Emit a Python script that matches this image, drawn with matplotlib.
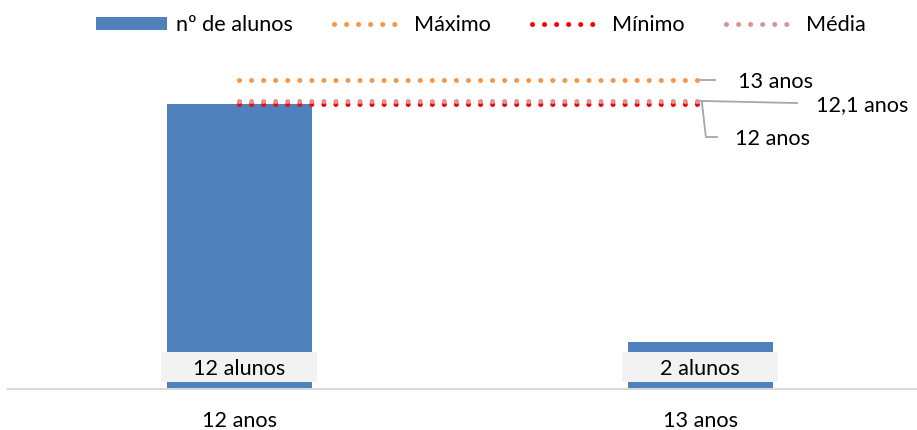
import matplotlib.pyplot as plt
from matplotlib.lines import Line2D
from matplotlib.patches import Patch, Rectangle

plt.rcParams['font.family'] = ['Lato', 'DejaVu Sans']

# --- dados ---
idades = ["12 anos", "13 anos"]
n_alunos = [12, 2]
maximo = [13, 13]
minimo = [12, 12]
media = [12.14, 12.14]
rotulos_barras = ["12 alunos", "2 alunos"]
rotulos_linhas = ["13 anos", "12,1 anos", "12 anos"]

cor_barra = "#4F81BD"
cor_max = "#F79646"
cor_min = "#FF0000"
cor_media = "#D99594"
cor_guia = "#A6A6A6"
fs = 15.6

fig = plt.figure(figsize=(9.17, 4.30), dpi=100)
ax = fig.add_axes([8 / 917, 41 / 430, 909 / 917, 14 * 23.75 / 430])

x = list(range(len(idades)))
ax.bar(x, n_alunos, width=0.315, color=cor_barra, zorder=2)

pontos = dict(linewidth=3.6, linestyle=(0, (0.01, 2.4)), dash_capstyle='round')
ax.plot(x, maximo, color=cor_max, zorder=3, **pontos)
ax.plot(x, minimo, color=cor_min, zorder=3, **pontos)
ax.plot(x, media, color=cor_media, zorder=4, **pontos)

# rótulos das barras, em caixa cinzenta junto à base
for xi, txt in zip(x, rotulos_barras):
    ax.add_patch(Rectangle((xi - 0.169, 0.29), 0.338, 1.26, facecolor="#F2F2F2",
                           edgecolor="none", zorder=5))
    ax.text(xi, 0.86, txt, ha='center', va='center', fontsize=fs,
            color="#000000", zorder=6)

# rótulos das linhas com linhas de chamada
xf = x[-1]
ax.plot([xf + 0.0, xf + 0.032], [maximo[-1], maximo[-1]], color=cor_guia, lw=1.3)
ax.text(xf + 0.081, maximo[-1] - 0.07, rotulos_linhas[0], ha='left', va='center', fontsize=fs)

ax.plot([xf - 0.001, xf + 0.21], [media[-1] - 0.01, media[-1] - 0.1], color=cor_guia, lw=1.3)
ax.text(xf + 0.25, media[-1] - 0.18, rotulos_linhas[1], ha='left', va='center', fontsize=fs)

ax.plot([xf + 0.003, xf + 0.012, xf + 0.036], [media[-1] - 0.01, 10.61, 10.61],
        color=cor_guia, lw=1.3)
ax.text(xf + 0.075, 10.53, rotulos_linhas[2], ha='left', va='center', fontsize=fs)

ax.set_xlim(-0.502, 1.47)
ax.set_ylim(0, 14)
ax.set_xticks(x)
ax.set_xticklabels(idades, fontsize=fs)
ax.tick_params(axis='x', length=0, pad=16)
ax.set_yticks([])
for lado in ['top', 'right', 'left']:
    ax.spines[lado].set_visible(False)
ax.spines['bottom'].set_color("#D9D9D9")
ax.spines['bottom'].set_linewidth(1.5)

handles = [
    Patch(facecolor=cor_barra, edgecolor='none', label="nº de alunos"),
    Line2D([], [], color=cor_max, label="Máximo", **pontos),
    Line2D([], [], color=cor_min, label="Mínimo", **pontos),
    Line2D([], [], color=cor_media, label="Média", **pontos),
]
fig.legend(handles=handles, loc='center', bbox_to_anchor=(481 / 917, 1 - 25 / 430), ncol=4,
           frameon=False, fontsize=fs, handlelength=3.3, handleheight=0.55,
           handletextpad=0.4, columnspacing=1.9)

fig.savefig("out.png", dpi=100)
